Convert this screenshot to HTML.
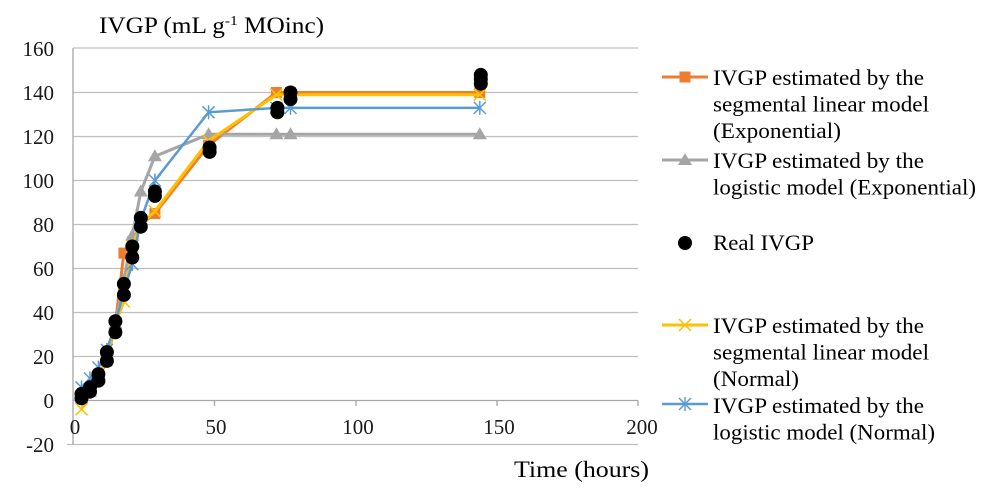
<!DOCTYPE html>
<html><head><meta charset="utf-8"><style>
body{margin:0;background:#fff;}
svg{display:block;font-family:"Liberation Serif",serif;}
</style></head><body>
<svg width="1000" height="499" viewBox="0 0 1000 499" xmlns="http://www.w3.org/2000/svg">
<defs>
<rect id="sq" x="-5.5" y="-5.5" width="11" height="11" fill="#ed7d31"/>
<polygon id="tri" points="0,-7 7,5 -7,5" fill="#a5a5a5"/>
<g id="xm" stroke="#ffc000" stroke-width="1.5"><line x1="-6" y1="-6" x2="6" y2="6"/><line x1="-6" y1="6" x2="6" y2="-6"/></g>
<g id="ast" stroke="#5b9bd5" stroke-width="1.5"><line x1="-6" y1="-6" x2="6" y2="6"/><line x1="-6" y1="6" x2="6" y2="-6"/><line x1="0" y1="-7" x2="0" y2="7"/></g>
<circle id="dot" r="7" fill="#000"/>
</defs>
<g stroke="#bfbfbf" stroke-width="1.3">
<line x1="73" y1="48" x2="638" y2="48"/>
<line x1="73" y1="92.5" x2="638" y2="92.5"/>
<line x1="73" y1="136.5" x2="638" y2="136.5"/>
<line x1="73" y1="180.5" x2="638" y2="180.5"/>
<line x1="73" y1="224.5" x2="638" y2="224.5"/>
<line x1="73" y1="268.5" x2="638" y2="268.5"/>
<line x1="73" y1="312.5" x2="638" y2="312.5"/>
<line x1="73" y1="356.5" x2="638" y2="356.5"/>
<line x1="67" y1="444.5" x2="638" y2="444.5"/>
</g>
<g stroke="#a6a6a6" stroke-width="1.3">
<line x1="73" y1="48" x2="73" y2="445"/>
<line x1="73" y1="400.5" x2="638" y2="400.5"/>
<line x1="214.5" y1="400.5" x2="214.5" y2="406"/>
<line x1="356" y1="400.5" x2="356" y2="406"/>
<line x1="497" y1="400.5" x2="497" y2="406"/>
<line x1="638" y1="400.5" x2="638" y2="406"/>
</g>
<g font-size="21" fill="#1a1a1a" text-anchor="end">
<text x="54" y="56">160</text><text x="54" y="100">140</text><text x="54" y="144">120</text>
<text x="54" y="188">100</text><text x="54" y="232">80</text><text x="54" y="276">60</text>
<text x="54" y="320">40</text><text x="54" y="364">20</text><text x="54" y="408">0</text>
<text x="54" y="452">-20</text>
</g>
<g font-size="21" fill="#1a1a1a" text-anchor="middle">
<text x="75" y="434">0</text><text x="216" y="434">50</text><text x="358" y="434">100</text>
<text x="499" y="434">150</text><text x="642" y="434">200</text>
</g>
<g transform="translate(99,33) scale(1.1,1)">
<text x="0" y="0" font-size="23" fill="#000">IVGP (mL g<tspan font-size="14" dy="-8">-1</tspan><tspan dy="8"> MOinc)</tspan></text>
</g>
<text x="514" y="477" font-size="23" fill="#000" textLength="135" lengthAdjust="spacingAndGlyphs">Time (hours)</text>

<polyline fill="none" stroke="#ed7d31" stroke-width="3" points="81.5,396.1 90,389.5 98.4,378.5 106.9,360.9 115.4,323.5 123.9,253.1 132.3,242.1 140.8,224.5 154.9,213.5 208.6,145.3 276.4,92.5 290.5,92.5 479.8,92.5"/>
<g><use href="#sq" x="81.5" y="396.1"/><use href="#sq" x="90" y="389.5"/><use href="#sq" x="98.4" y="378.5"/><use href="#sq" x="106.9" y="360.9"/><use href="#sq" x="115.4" y="323.5"/><use href="#sq" x="123.9" y="253.1"/><use href="#sq" x="132.3" y="242.1"/><use href="#sq" x="140.8" y="224.5"/><use href="#sq" x="154.9" y="213.5"/><use href="#sq" x="208.6" y="145.3"/><use href="#sq" x="276.4" y="92.5"/><use href="#sq" x="290.5" y="92.5"/><use href="#sq" x="479.8" y="92.5"/></g>

<polyline fill="none" stroke="#a5a5a5" stroke-width="3" points="81.5,398.3 90,391.7 98.4,378.5 106.9,356.5 115.4,323.5 123.9,279.5 132.3,235.5 140.8,191.5 154.9,156.3 208.6,134.3 276.4,134.3 290.5,134.3 479.8,134.3"/>
<g><use href="#tri" x="81.5" y="398.3"/><use href="#tri" x="90" y="391.7"/><use href="#tri" x="98.4" y="378.5"/><use href="#tri" x="106.9" y="356.5"/><use href="#tri" x="115.4" y="323.5"/><use href="#tri" x="123.9" y="279.5"/><use href="#tri" x="132.3" y="235.5"/><use href="#tri" x="140.8" y="191.5"/><use href="#tri" x="154.9" y="156.3"/><use href="#tri" x="208.6" y="134.3"/><use href="#tri" x="276.4" y="134.3"/><use href="#tri" x="290.5" y="134.3"/><use href="#tri" x="479.8" y="134.3"/></g>

<polyline fill="none" stroke="#ffc000" stroke-width="3" points="81.5,409.3 90,389.5 98.4,378.5 106.9,356.5 115.4,323.5 123.9,301.5 132.3,246.5 140.8,224.5 154.9,211.3 208.6,140.9 276.4,94.7 290.5,94.7 479.8,94.7"/>
<g><use href="#xm" x="81.5" y="409.3"/><use href="#xm" x="90" y="389.5"/><use href="#xm" x="98.4" y="378.5"/><use href="#xm" x="106.9" y="356.5"/><use href="#xm" x="115.4" y="323.5"/><use href="#xm" x="123.9" y="301.5"/><use href="#xm" x="132.3" y="246.5"/><use href="#xm" x="140.8" y="224.5"/><use href="#xm" x="154.9" y="211.3"/><use href="#xm" x="208.6" y="140.9"/><use href="#xm" x="276.4" y="94.7"/><use href="#xm" x="290.5" y="94.7"/><use href="#xm" x="479.8" y="94.7"/></g>

<polyline fill="none" stroke="#5b9bd5" stroke-width="2.5" points="81.5,387.3 90,378.5 98.4,367.5 106.9,349.9 115.4,323.5 123.9,290.5 132.3,264.1 140.8,220.1 154.9,180.5 208.6,112.3 276.4,107.9 290.5,107.9 479.8,107.9"/>
<g><use href="#ast" x="81.5" y="387.3"/><use href="#ast" x="90" y="378.5"/><use href="#ast" x="98.4" y="367.5"/><use href="#ast" x="106.9" y="349.9"/><use href="#ast" x="115.4" y="323.5"/><use href="#ast" x="123.9" y="290.5"/><use href="#ast" x="132.3" y="264.1"/><use href="#ast" x="140.8" y="220.1"/><use href="#ast" x="154.9" y="180.5"/><use href="#ast" x="208.6" y="112.3"/><use href="#ast" x="276.4" y="107.9"/><use href="#ast" x="290.5" y="107.9"/><use href="#ast" x="479.8" y="107.9"/></g>

<g>
<use href="#dot" x="81.5" y="398.3"/><use href="#dot" x="81.5" y="393.9"/>
<use href="#dot" x="90" y="391.7"/><use href="#dot" x="90" y="387.3"/>
<use href="#dot" x="98.4" y="380.7"/><use href="#dot" x="98.4" y="374.1"/>
<use href="#dot" x="106.9" y="360.9"/><use href="#dot" x="106.9" y="352.1"/>
<use href="#dot" x="115.4" y="332.3"/><use href="#dot" x="115.4" y="321.3"/>
<use href="#dot" x="123.9" y="294.9"/><use href="#dot" x="123.9" y="283.9"/>
<use href="#dot" x="132.3" y="257.5"/><use href="#dot" x="132.3" y="246.5"/>
<use href="#dot" x="140.8" y="226.7"/><use href="#dot" x="140.8" y="217.9"/>
<use href="#dot" x="154.9" y="195.9"/><use href="#dot" x="154.9" y="191.5"/>
<use href="#dot" x="209.6" y="151.9"/><use href="#dot" x="209.6" y="147.5"/>
<use href="#dot" x="277.4" y="112.3"/><use href="#dot" x="277.4" y="107.9"/>
<use href="#dot" x="290.5" y="99.1"/><use href="#dot" x="290.5" y="92.5"/>
<use href="#dot" x="480.8" y="83.7"/><use href="#dot" x="480.8" y="79.3"/><use href="#dot" x="480.8" y="74.9"/>
</g>

<line x1="662" y1="77" x2="708" y2="77" stroke="#ed7d31" stroke-width="3"/><use href="#sq" x="685" y="77"/>
<line x1="662" y1="160" x2="708" y2="160" stroke="#a5a5a5" stroke-width="3"/><use href="#tri" x="685" y="160"/>
<use href="#dot" x="685" y="243"/>
<line x1="662" y1="325" x2="708" y2="325" stroke="#ffc000" stroke-width="3"/><use href="#xm" x="685" y="325"/>
<line x1="662" y1="404" x2="708" y2="404" stroke="#5b9bd5" stroke-width="2.5"/><use href="#ast" x="685" y="404"/>
<g font-size="22" fill="#000">
<text x="713" y="85" textLength="211" lengthAdjust="spacingAndGlyphs">IVGP estimated by the</text>
<text x="713" y="111.5" textLength="216" lengthAdjust="spacingAndGlyphs">segmental linear model</text>
<text x="713" y="138" textLength="128" lengthAdjust="spacingAndGlyphs">(Exponential)</text>
<text x="713" y="168" textLength="211" lengthAdjust="spacingAndGlyphs">IVGP estimated by the</text>
<text x="713" y="194.5" textLength="263" lengthAdjust="spacingAndGlyphs">logistic model (Exponential)</text>
<text x="713" y="250" textLength="101" lengthAdjust="spacingAndGlyphs">Real IVGP</text>
<text x="713" y="333" textLength="211" lengthAdjust="spacingAndGlyphs">IVGP estimated by the</text>
<text x="713" y="359.5" textLength="216" lengthAdjust="spacingAndGlyphs">segmental linear model</text>
<text x="713" y="386" textLength="86" lengthAdjust="spacingAndGlyphs">(Normal)</text>
<text x="713" y="413" textLength="211" lengthAdjust="spacingAndGlyphs">IVGP estimated by the</text>
<text x="713" y="439.5" textLength="222" lengthAdjust="spacingAndGlyphs">logistic model (Normal)</text>
</g>
</svg>
</body></html>
